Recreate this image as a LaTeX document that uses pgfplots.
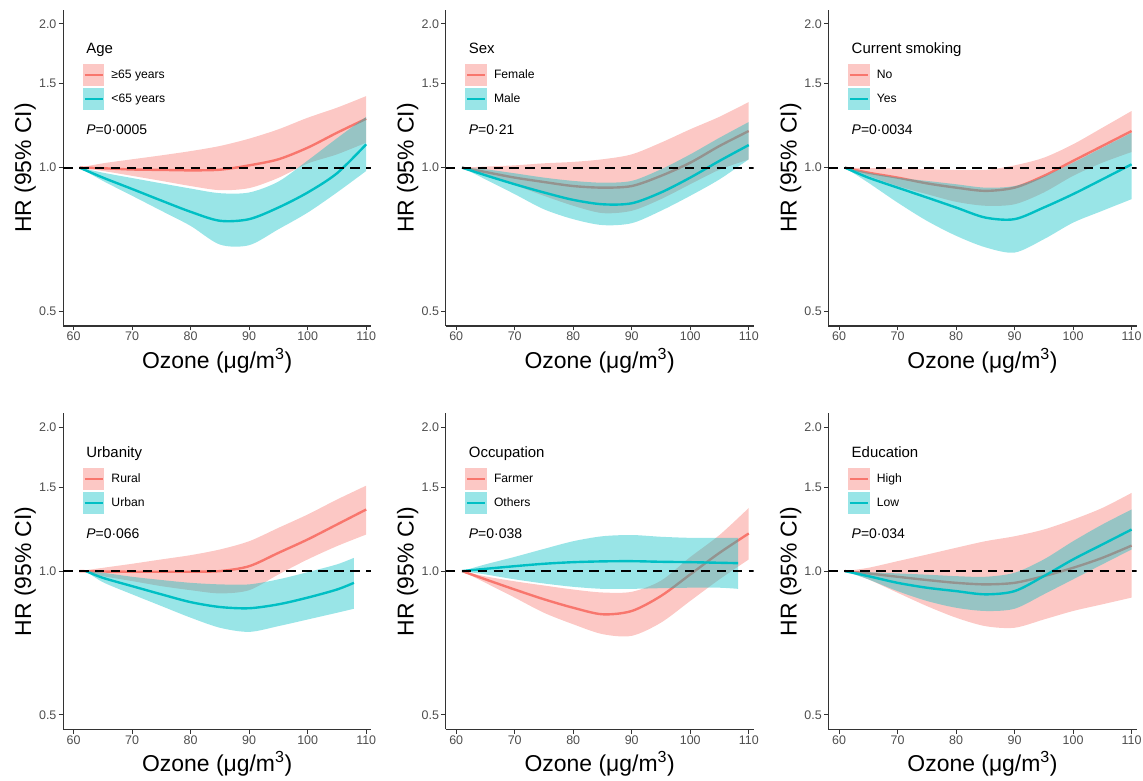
\documentclass[border=0pt]{standalone}
\usepackage{fontspec}
\setmainfont{Liberation Sans}
\usepackage{pgfplots}
\pgfplotsset{compat=1.18}
\usepgfplotslibrary{fillbetween}
\usepackage{pgfplotstable}

\definecolor{cR}{HTML}{F8766D}
\definecolor{cT}{HTML}{00BFC4}
\definecolor{tickgray}{HTML}{4D4D4D}
\definecolor{axgray}{HTML}{333333}

% ---- Age
\pgfplotstableread{
x   lo    mid   hi
61  1     1     1
65  0.984 0.997 1.021
70  0.961 0.991 1.041
75  0.938 0.989 1.061
80  0.915 0.987 1.083
85  0.897 0.990 1.110
90  0.906 1.011 1.150
95  0.952 1.041 1.203
100 1.020 1.101 1.272
105 1.066 1.183 1.335
110 1.128 1.266 1.412
}\ageR
\pgfplotstableread{
x   lo    mid   hi
61  1     1     1
65  0.938 0.953 0.976
70  0.873 0.902 0.951
75  0.812 0.853 0.927
80  0.755 0.808 0.904
85  0.690 0.774 0.884
90  0.688 0.780 0.887
95  0.743 0.825 0.935
100 0.805 0.887 1.035
105 0.887 0.973 1.152
110 0.984 1.119 1.278
}\ageT
% ---- Sex
\pgfplotstableread{
x   lo    mid   hi
61  1     1     1
65  0.961 0.979 1.005
70  0.919 0.953 1.011
75  0.873 0.933 1.021
80  0.832 0.915 1.028
85  0.803 0.908 1.041
90  0.812 0.915 1.066
95  0.859 0.961 1.128
100 0.923 1.024 1.203
105 0.990 1.110 1.278
110 1.040 1.193 1.372
}\sexR
\pgfplotstableread{
x   lo    mid   hi
61  1     1     1
65  0.945 0.964 0.992
70  0.880 0.923 0.973
75  0.818 0.887 0.953
80  0.780 0.856 0.938
85  0.758 0.838 0.930
90  0.765 0.842 0.938
95  0.812 0.887 0.992
100 0.873 0.953 1.066
105 0.945 1.033 1.155
110 1.041 1.115 1.246
}\sexT
% ---- Current smoking
\pgfplotstableread{
x   lo    mid   hi
61  1     1     1
65  0.961 0.976 0.998
70  0.915 0.953 0.995
75  0.880 0.927 0.992
80  0.848 0.908 0.989
85  0.832 0.894 0.989
90  0.838 0.908 1.011
95  0.887 0.961 1.049
100 0.961 1.033 1.119
105 1.024 1.110 1.212
110 1.078 1.193 1.314
}\smkR
\pgfplotstableread{
x   lo    mid   hi
61  1     1     1
65  0.930 0.953 0.976
70  0.845 0.908 0.953
75  0.774 0.866 0.938
80  0.720 0.825 0.923
85  0.681 0.786 0.908
90  0.664 0.780 0.915
95  0.708 0.825 0.958
100 0.767 0.880 1.024
105 0.812 0.945 1.101
110 0.859 1.016 1.183
}\smkT
% ---- Urbanity
\pgfplotstableread{
x   lo    mid   hi
61  1     1     1
65  0.976 0.998 1.016
70  0.953 0.997 1.036
75  0.930 0.997 1.058
80  0.912 0.997 1.080
85  0.898 1.000 1.110
90  0.912 1.024 1.155
95  0.984 1.092 1.232
100 1.058 1.165 1.314
105 1.128 1.252 1.412
110 1.193 1.346 1.510
}\urbR
\pgfplotstableread{
x     lo    mid   hi
62.1  1     1     1
65    0.948 0.968 0.992
70    0.894 0.930 0.973
75    0.845 0.894 0.958
80    0.799 0.861 0.945
85    0.761 0.841 0.938
90    0.746 0.836 0.938
95    0.767 0.852 0.961
100   0.792 0.880 0.995
105   0.818 0.915 1.033
107.9 0.834 0.945 1.066
}\urbT
% ---- Occupation
\pgfplotstableread{
x   lo    mid   hi
61  1     1     1
65  0.945 0.961 0.975
70  0.880 0.915 0.952
75  0.818 0.873 0.933
80  0.774 0.838 0.915
85  0.738 0.812 0.902
90  0.732 0.825 0.905
95  0.780 0.887 0.955
100 0.866 0.984 1.070
105 0.961 1.092 1.190
110 1.058 1.199 1.356
}\occR
\pgfplotstableread{
x     lo    mid   hi
61    1     1     1
65    0.984 1.011 1.033
70    0.961 1.024 1.071
75    0.942 1.036 1.113
80    0.927 1.044 1.155
85    0.918 1.048 1.183
90    0.918 1.049 1.190
95    0.921 1.046 1.180
100   0.923 1.044 1.174
105   0.923 1.041 1.174
108.2 0.918 1.039 1.174
}\occT
% ---- Education
\pgfplotstableread{
x   lo    mid   hi
61  1     1     1
65  0.961 0.989 1.016
70  0.901 0.973 1.049
75  0.845 0.958 1.083
80  0.799 0.945 1.119
85  0.767 0.938 1.155
90  0.761 0.945 1.183
95  0.792 0.976 1.222
100 0.825 1.016 1.282
105 0.852 1.066 1.356
110 0.880 1.131 1.458
}\eduR
\pgfplotstableread{
x   lo    mid   hi
61  1     1     1
65  0.961 0.976 0.995
70  0.908 0.945 0.989
75  0.866 0.923 0.983
80  0.838 0.908 0.976
85  0.825 0.894 0.973
90  0.834 0.908 0.992
95  0.894 0.976 1.058
100 0.961 1.058 1.155
105 1.033 1.137 1.252
110 1.110 1.222 1.346
}\eduT

\pgfplotsset{
  keyR/.style={legend image code/.code={
      \fill[cR!40, draw=none] (0pt,-11pt) rectangle (22pt,11pt);
      \draw[cR, line width=2pt] (2pt,0pt) -- (20pt,0pt);
      \path[draw=none, fill=none] (0pt,0pt) -- (27pt,0pt);}},
  keyT/.style={legend image code/.code={
      \fill[cT!40, draw=none] (0pt,-11pt) rectangle (22pt,11pt);
      \draw[cT, line width=2pt] (2pt,0pt) -- (20pt,0pt);
      \path[draw=none, fill=none] (0pt,0pt) -- (27pt,0pt);}},
}

% #1 left, #2 bottom, #3 title, #4 red table, #5 teal table, #6 red name, #7 teal name, #8 P
\newcommand{\panel}[8]{%
\begin{axis}[
    ymode=log,
    at={(#1,#2)}, anchor=south west,
    scale only axis, width=309pt, height=317pt,
    xmin=58.2, xmax=110.85, ymin=0.4659, ymax=2.139,
    axis lines=left, axis line style={-, line width=1.2pt, axgray},
    xtick={60,70,80,90,100,110}, ytick={0.5,1,1.5,2},
    yticklabels={0.5,1.0,1.5,2.0},
    tick align=outside, major tick length=4.5pt,
    tick style={line width=1pt, axgray},
    ticklabel style={font=\fontsize{12.5}{12.5}\selectfont, text=tickgray},
    xticklabel style={inner sep=1.5pt},
    yticklabel style={inner sep=2pt},
    /pgf/number format/assume math mode=true,
    xlabel={Ozone (μg/m\textsuperscript{3})}, ylabel={HR (95\% CI)},
    label style={font=\fontsize{23}{23}\selectfont},
    x label style={at={(axis description cs:0.5,-0.11)}, anchor=center},
    y label style={at={(axis description cs:-0.123,0.5)}, anchor=center},
    legend style={at={(0.0625,0.8287)}, anchor=north west, draw=none, fill=none,
      inner sep=0pt, row sep=2pt, font=\fontsize{12.2}{12.2}\selectfont},
    legend cell align=left,
    fill between/on layer=main,
  ]
\addlegendimage{keyR}\addlegendentry{#6}
\addlegendimage{keyT}\addlegendentry{#7}
\addplot[name path=ru, draw=none, smooth, forget plot] table[x=x,y=hi]{#4};
\addplot[name path=rl, draw=none, smooth, forget plot] table[x=x,y=lo]{#4};
\addplot[fill=cR, fill opacity=0.4, draw=none, forget plot] fill between[of=ru and rl];
\addplot[cR, line width=2.4pt, smooth, forget plot] table[x=x,y=mid]{#4};
\addplot[name path=tu, draw=none, smooth, forget plot] table[x=x,y=hi]{#5};
\addplot[name path=tl, draw=none, smooth, forget plot] table[x=x,y=lo]{#5};
\addplot[fill=cT, fill opacity=0.4, draw=none, forget plot] fill between[of=tu and tl];
\addplot[cT, line width=2.4pt, smooth, forget plot] table[x=x,y=mid]{#5};
\addplot[black, line width=1.9pt, dash pattern=on 9.5pt off 6.5pt, forget plot]
  coordinates {(58.2,1) (110.85,1)};
\node[anchor=base west, font=\fontsize{15}{15}\selectfont] at (rel axis cs:0.064,0.861) {#3};
\node[anchor=base west, font=\fontsize{14}{14}\selectfont] at (rel axis cs:0.064,0.6057) {#8};
\end{axis}}

\begin{document}
\begin{tikzpicture}
\panel{63.3pt}{450pt}{Age}{\ageR}{\ageT}{≥65 years}{<65 years}{\textit{P}=0·0005}
\panel{447pt}{450pt}{Sex}{\sexR}{\sexT}{Female}{Male}{\textit{P}=0·21}
\panel{831pt}{450pt}{Current smoking}{\smkR}{\smkT}{No}{Yes}{\textit{P}=0·0034}
\panel{63.3pt}{45.3pt}{Urbanity}{\urbR}{\urbT}{Rural}{Urban}{\textit{P}=0·066}
\panel{447pt}{45.3pt}{Occupation}{\occR}{\occT}{Farmer}{Others}{\textit{P}=0·038}
\panel{831pt}{45.3pt}{Education}{\eduR}{\eduT}{High}{Low}{\textit{P}=0·034}
\useasboundingbox (0pt,0pt) rectangle (1143pt,777pt);
\end{tikzpicture}
\end{document}
